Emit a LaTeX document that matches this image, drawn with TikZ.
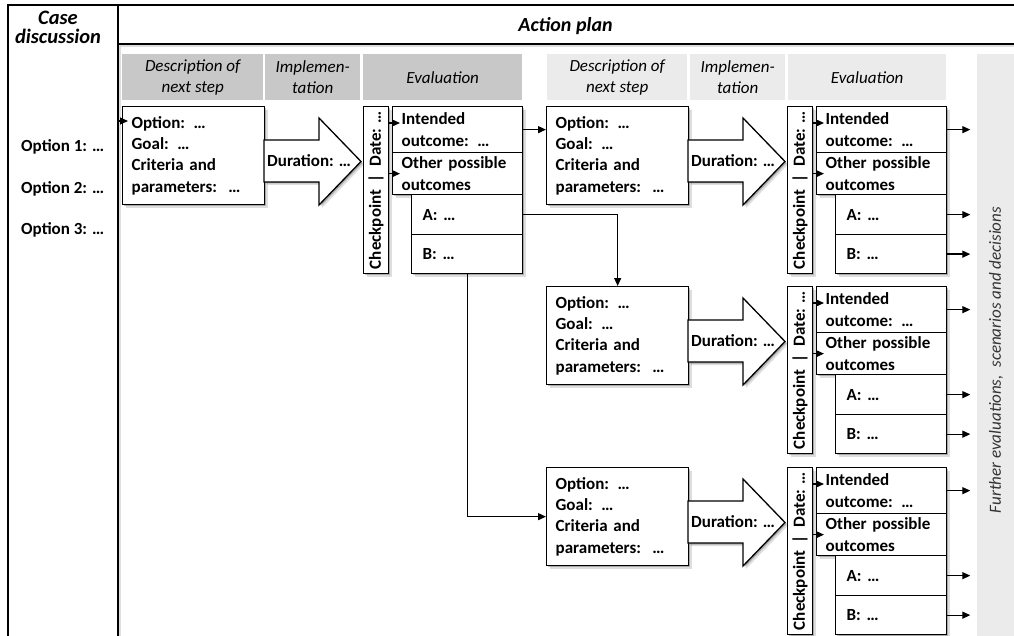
\documentclass[tikz,border=0pt]{standalone}
\usepackage{fontspec}
\setmainfont{Carlito}
\usetikzlibrary{arrows.meta,shadows}

\definecolor{headdark}{HTML}{C8C8C8}
\definecolor{headlight}{HTML}{EBEBEB}
\definecolor{notegray}{HTML}{333333}

\newcommand\bodysize{\fontsize{17}{21.3}\selectfont}
\newcommand\casesize{\fontsize{20.5}{19.5}\selectfont}
\newcommand\plansize{\fontsize{20}{20}\selectfont}

\tikzset{
  softshadow/.style={
    drop shadow={opacity=.24,fill=black,shadow xshift=1.5pt,shadow yshift=-1.5pt},
    drop shadow={opacity=.13,fill=black,shadow xshift=3pt,shadow yshift=-3pt}},
  frame/.style={draw,line width=1.7pt,fill=white,softshadow,inner sep=0pt,anchor=north west},
  headcell/.style={fill=#1,inner sep=0pt,anchor=north west,minimum height=46pt,
    align=center,font=\itshape\bodysize},
  stepbox/.style={draw,fill=white,line width=1.3pt,softshadow,anchor=north west,
    inner ysep=0pt,align=left,font=\bfseries\bodysize},
  optionbox/.style={stepbox,minimum width=142pt,minimum height=98pt,text width=124pt,inner xsep=9pt},
  outcomebox/.style={stepbox,minimum width=130pt,minimum height=#1,text width=112pt,inner xsep=9pt},
  branchbox/.style={stepbox,minimum width=111pt,minimum height=#1,text width=89pt,inner xsep=11pt},
  checkbar/.style={stepbox,minimum width=25pt,minimum height=167pt,inner sep=0pt},
  bartext/.style={rotate=90,inner sep=0pt,font=\bfseries\bodysize},
  blockarrow/.style={draw,fill=white,line width=1.3pt,line join=miter,softshadow},
  plain/.style={inner sep=0pt,font=\bfseries\bodysize},
  link/.style={line width=1.3pt,-{Triangle[length=8pt,width=7pt]}},
}

% one planning step: description box, duration arrow, checkpoint bar and outcomes
\newcommand\stepchain[3]{%
  \node[optionbox] (#1box) at (#2,#3) {Option: …\\Goal: …\\Criteria and\\parameters:~~…};
  \draw[blockarrow] (#2+142,#3+34) -- (#2+197,#3+34) -- (#2+197,#3+12) -- (#2+239,#3+55.5)
     -- (#2+197,#3+99) -- (#2+197,#3+76) -- (#2+142,#3+76) -- cycle;
  \node[plain,anchor=west] (#1dur) at (#2+145,#3+55) {Duration: …};
  \node[checkbar] (#1cp) at (#2+241,#3) {};
  \node[bartext] at (#1cp.center) {Checkpoint~~|~~Date: …};
  \node[outcomebox=46pt] (#1int) at (#2+270,#3) {Intended\\outcome: …};
  \node[outcomebox=42pt] (#1oth) at (#2+270,#3+46) {Other possible\\outcomes};
  \node[branchbox=40pt] (#1a) at (#2+289,#3+88) {A: …};
  \node[branchbox=39pt] (#1b) at (#2+289,#3+128) {B: …};
  \draw[link,shorten >=-8pt] (#1cp.east |- 0,#3+17) -- (#1int.west |- 0,#3+17);
  \draw[link,shorten >=-8pt] (#1cp.east |- #1oth.west) -- (#1oth.west);
}

% arrows leading on to further decisions
\newcommand\leadout[1]{%
  \draw[link] (#1int.east) -- ++(23,0);
  \draw[link] (#1a.east) -- ++(23,0);
  \draw[link] (#1b.east) -- ++(23,0);
}

\begin{document}
\begin{tikzpicture}[x=1pt,y=-1pt]
\useasboundingbox (0,0) rectangle (1014,636);
\clip (0,0) rectangle (1014,636);

% frames
\node[frame,minimum width=110pt,minimum height=632pt] (casecol) at (7,4) {};
\node[frame,minimum width=910pt,minimum height=39pt] (planhead) at (117,4) {};
\node[inner sep=0pt,anchor=north,align=center,font=\bfseries\itshape\casesize] (casetitle) at (58,10.5) {Case\\discussion};
\node[inner sep=0pt,anchor=base,font=\bfseries\itshape\plansize] (plantitle) at (565.5,31.5) {Action plan};

% column heads
\node[headcell=headdark,minimum width=141pt] (d1) at (122,54) {Description of\\next step};
\node[headcell=headdark,minimum width=95pt] (i1) at (265,54) {Implemen-\\tation};
\node[headcell=headdark,minimum width=159pt] (e1) at (363,54) {Evaluation};
\node[headcell=headlight,minimum width=140pt] (d2) at (547,54) {Description of\\next step};
\node[headcell=headlight,minimum width=95pt] (i2) at (690,54) {Implemen-\\tation};
\node[headcell=headlight,minimum width=158pt] (e2) at (788,54) {Evaluation};
\node[fill=headlight,inner sep=0pt,anchor=north west,minimum width=40pt,minimum height=585pt] (further) at (977,54) {};
\node[rotate=90,inner sep=0pt,font=\itshape\bodysize,text=notegray] (furthertext) at (996,360) {Further evaluations,~ scenarios and decisions};

% options from the case discussion
\node[plain,anchor=base west] (opt1) at (21,152) {Option 1: …};
\node[plain,anchor=base west] (opt2) at (21,193.5) {Option 2: …};
\node[plain,anchor=base west] (opt3) at (21,235) {Option 3: …};

% steps
\stepchain{s1}{122}{106}
\stepchain{s2}{546}{106}
\stepchain{s3}{546}{286}
\stepchain{s4}{546}{467}
\leadout{s2}
\leadout{s3}
\leadout{s4}

% links between steps
\coordinate (entry) at (casecol.east |- 0,121);
\draw[link,shorten >=-6pt] (entry) -- (entry -| s1box.west);
\draw[link] (s1int.east) -- (s1int.east -| s2box.west);
\draw[link] (s1a.east) -| (s3box.north);
\draw[link] (s1b.south) |- (s4box.west);
\end{tikzpicture}
\end{document}
